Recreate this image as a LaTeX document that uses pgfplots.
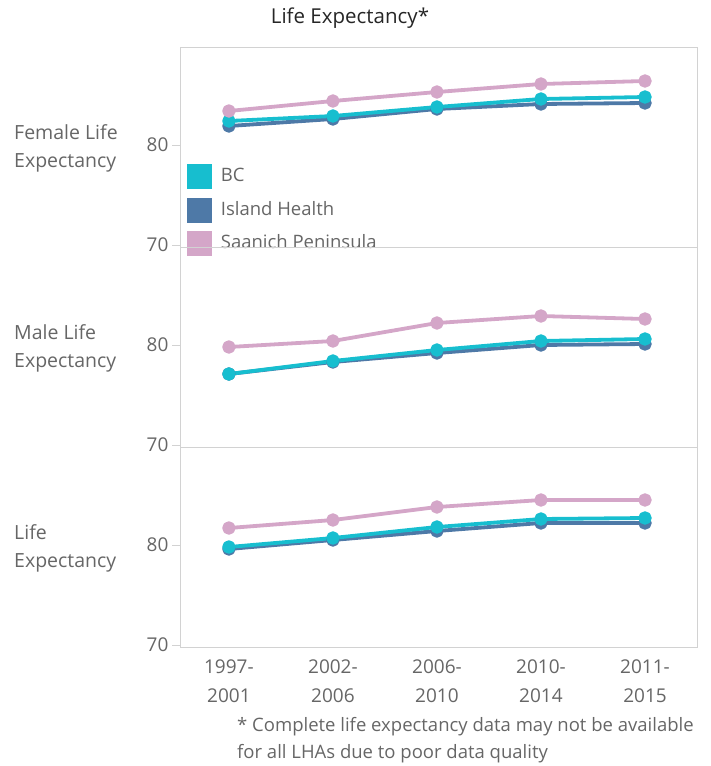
\documentclass[border=0pt]{standalone}
\usepackage{pgfplots}
\pgfplotsset{compat=1.18}
\usepackage{fontspec}
\setmainfont{Open Sans}

\definecolor{bc}{HTML}{17BECF}
\definecolor{island}{HTML}{4E79A7}
\definecolor{saanich}{HTML}{D4A6C8}
\definecolor{txt}{HTML}{666666}
\definecolor{frm}{HTML}{D2D2D2}

\pgfplotsset{
  panel/.style={
    scale only axis, width=517pt, height=200pt,
    anchor=south west,
    xmin=-0.47, xmax=4.5, ymin=69.8, ymax=89.8,
    xtick={0,1,2,3,4}, xticklabels={},
    ytick={70,80}, ytick pos=left,
    axis line style={frm, line width=1pt},
    tick align=outside, major tick length=8pt,
    ytick style={frm, line width=1pt},
    xtick style={draw=none},
    yticklabel style={font=\fontsize{19}{22}\selectfont, text=txt},
    /pgf/number format/assume math mode=true,
    clip=false,
  },
  ser/.style={line width=3.8pt, line join=round, mark=*, mark size=4.8pt,
    mark options={solid, fill=#1, draw=#1}, color=#1, forget plot},
}

\begin{document}
\begin{tikzpicture}[x=1pt,y=1pt]
\path (0,0) rectangle (710,-766);

% Female
\begin{axis}[panel, at={(180pt,-247pt)},
  legend style={at={(0.014,0.415)}, anchor=north west, draw=none, fill=none,
    font=\fontsize{18.5}{22}\selectfont, text=txt, row sep=9pt, inner sep=0pt,
    /tikz/every odd column/.append style={column sep=7pt}},
  legend cell align=left]
\addplot[ser=island] coordinates {(0,81.9) (1,82.6) (2,83.6) (3,84.1) (4,84.2)};
\addplot[ser=bc] coordinates {(0,82.4) (1,82.9) (2,83.8) (3,84.6) (4,84.8)};
\addplot[ser=saanich] coordinates {(0,83.4) (1,84.4) (2,85.3) (3,86.1) (4,86.4)};
\addlegendimage{legend image code/.code={\fill[bc] (0pt,-12.5pt) rectangle (24pt,11.5pt);}}
\addlegendentry{BC}
\addlegendimage{legend image code/.code={\fill[island] (0pt,-12.5pt) rectangle (24pt,11.5pt);}}
\addlegendentry{Island Health}
\addlegendimage{legend image code/.code={\fill[saanich] (0pt,-12.5pt) rectangle (24pt,11.5pt);}}
\addlegendentry{Saanich Peninsula}
\end{axis}

% Male
\begin{axis}[panel, at={(180pt,-447pt)}]
\addplot[ser=island] coordinates {(0,77.1) (1,78.3) (2,79.2) (3,80.0) (4,80.1)};
\addplot[ser=bc] coordinates {(0,77.1) (1,78.4) (2,79.5) (3,80.4) (4,80.6)};
\addplot[ser=saanich] coordinates {(0,79.8) (1,80.4) (2,82.2) (3,82.9) (4,82.6)};
\end{axis}

% Overall
\begin{axis}[panel, at={(180pt,-647pt)},
  xticklabels={{1997-\\2001},{2002-\\2006},{2006-\\2010},{2010-\\2014},{2011-\\2015}},
  xticklabel style={font=\fontsize{19}{29}\selectfont, text=txt, align=center, yshift=-1pt}]
\addplot[ser=island] coordinates {(0,79.6) (1,80.5) (2,81.4) (3,82.2) (4,82.2)};
\addplot[ser=bc] coordinates {(0,79.8) (1,80.7) (2,81.8) (3,82.6) (4,82.7)};
\addplot[ser=saanich] coordinates {(0,81.7) (1,82.5) (2,83.8) (3,84.5) (4,84.5)};
\end{axis}

% row labels, title, footnote
\begin{scope}[every node/.style={font=\fontsize{19.5}{28}\selectfont, text=txt, align=left, anchor=west, inner sep=0pt}]
\node at (14,-148) {Female Life\\Expectancy};
\node at (14,-348) {Male Life\\Expectancy};
\node at (14,-548) {Life\\Expectancy};
\end{scope}
\node[font=\fontsize{20.5}{24}\selectfont, text={black!85}] at (350,-18) {Life Expectancy*};
\node[font=\fontsize{18.5}{27}\selectfont, text=txt, align=left, anchor=north west, inner sep=0pt]
  at (237,-717) {* Complete life expectancy data may not be available\\for all LHAs due to poor data quality};
\end{tikzpicture}
\end{document}
